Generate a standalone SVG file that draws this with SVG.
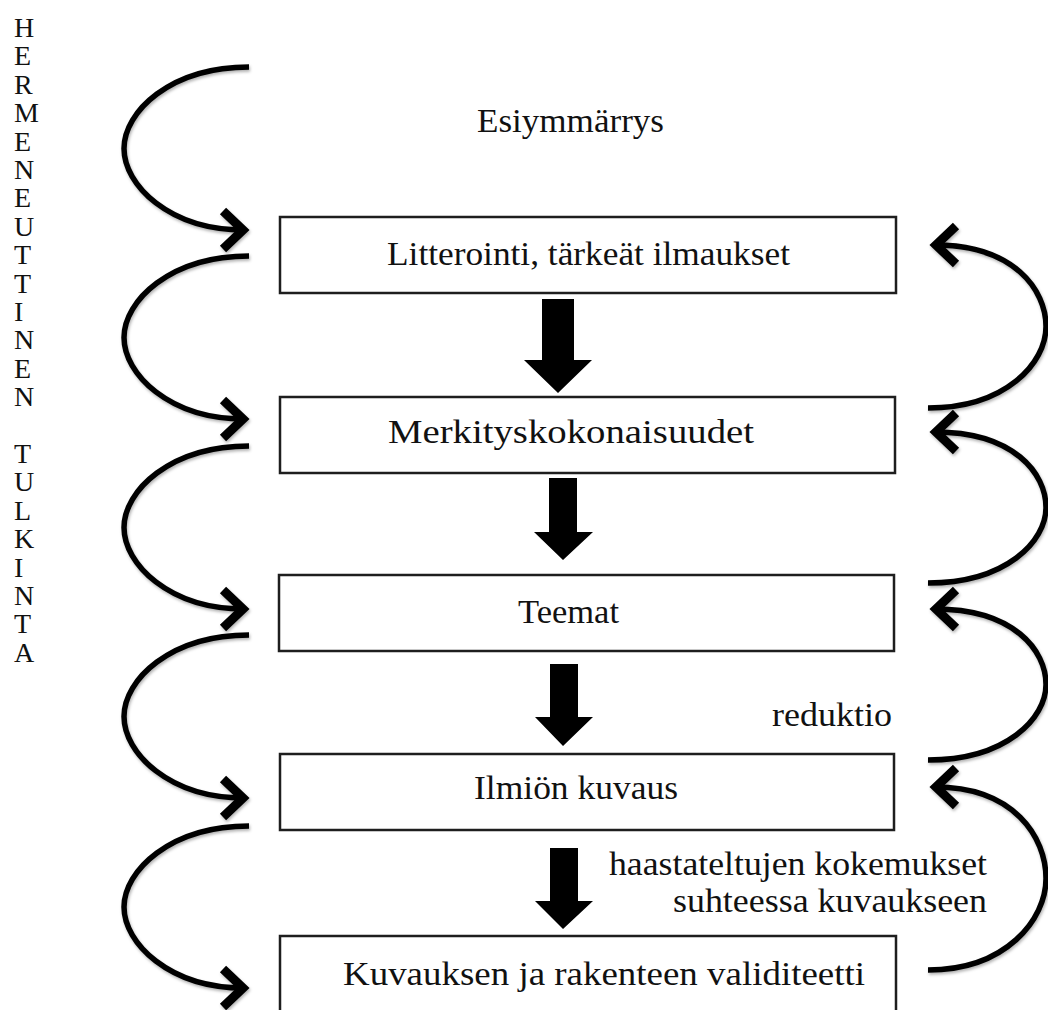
<svg xmlns="http://www.w3.org/2000/svg" width="1048" height="1010" viewBox="0 0 1048 1010">
<style>
  .box { fill: #ffffff; stroke: #1e1e1e; stroke-width: 2.5; }
  .lbl { font-family: "Liberation Serif", "Times New Roman", serif; font-size: 33px; fill: #111; }
  .vert { font-family: "Liberation Serif", "Times New Roman", serif; font-size: 28px; fill: #111; }
  .arc { fill: none; stroke: #000; stroke-width: 5.5; }
  .chev { fill: none; stroke: #000; stroke-width: 9; stroke-linejoin: miter; stroke-miterlimit: 10; }
  .block { fill: #000; }
</style>
<defs>
  <filter id="sh" x="-20%" y="-20%" width="140%" height="140%">
    <feDropShadow dx="1" dy="2" stdDeviation="1.5" flood-color="#000" flood-opacity="0.3"/>
  </filter>
</defs>
<rect x="0" y="0" width="1048" height="1010" fill="#ffffff"/>

<g id="side-label">
  <text class="vert">
    <tspan x="14" y="37">H</tspan>
    <tspan x="14" y="65.4">E</tspan>
    <tspan x="14" y="93.8">R</tspan>
    <tspan x="14" y="122.2">M</tspan>
    <tspan x="14" y="150.6">E</tspan>
    <tspan x="14" y="179">N</tspan>
    <tspan x="14" y="207.4">E</tspan>
    <tspan x="14" y="235.8">U</tspan>
    <tspan x="14" y="264.2">T</tspan>
    <tspan x="14" y="292.6">T</tspan>
    <tspan x="14" y="321">I</tspan>
    <tspan x="14" y="349.4">N</tspan>
    <tspan x="14" y="377.8">E</tspan>
    <tspan x="14" y="406.2">N</tspan>
    <tspan x="14" y="463">T</tspan>
    <tspan x="14" y="491.4">U</tspan>
    <tspan x="14" y="519.8">L</tspan>
    <tspan x="14" y="548.2">K</tspan>
    <tspan x="14" y="576.6">I</tspan>
    <tspan x="14" y="605">N</tspan>
    <tspan x="14" y="633.4">T</tspan>
    <tspan x="14" y="661.8">A</tspan>
  </text>
</g>

<g id="esiymmarrys">
  <text class="lbl" x="477" y="132" textLength="187" lengthAdjust="spacingAndGlyphs">Esiymmärrys</text>
</g>

<g id="node-litterointi">
  <rect class="box" x="280" y="217" width="616" height="76"/>
  <text class="lbl" x="387" y="265" textLength="403" lengthAdjust="spacingAndGlyphs">Litterointi, tärkeät ilmaukset</text>
</g>

<g id="node-merkitys">
  <rect class="box" x="280" y="397" width="615" height="76"/>
  <text class="lbl" x="388" y="443" textLength="366" lengthAdjust="spacingAndGlyphs">Merkityskokonaisuudet</text>
</g>

<g id="node-teemat">
  <rect class="box" x="279" y="575" width="615" height="76"/>
  <text class="lbl" x="518" y="623" textLength="101" lengthAdjust="spacingAndGlyphs">Teemat</text>
</g>

<g id="node-ilmion">
  <rect class="box" x="280" y="754" width="614" height="76"/>
  <text class="lbl" x="474" y="799" textLength="204" lengthAdjust="spacingAndGlyphs">Ilmiön kuvaus</text>
</g>

<g id="node-validiteetti">
  <rect class="box" x="280" y="936" width="616" height="100"/>
  <text class="lbl" x="343" y="985" textLength="522" lengthAdjust="spacingAndGlyphs">Kuvauksen ja rakenteen validiteetti</text>
</g>

<g id="label-reduktio">
  <text class="lbl" x="772" y="726" textLength="120" lengthAdjust="spacingAndGlyphs">reduktio</text>
</g>

<g id="label-haastateltujen">
  <text class="lbl" x="609" y="875" textLength="378" lengthAdjust="spacingAndGlyphs">haastateltujen kokemukset</text>
  <text class="lbl" x="673" y="912" textLength="314" lengthAdjust="spacingAndGlyphs">suhteessa kuvaukseen</text>
</g>

<g id="connectors">
  <g filter="url(#sh)">
    <path class="arc" d="M249,67 c-79,0 -125,45 -125,81.5 c0,36.5 45,81.5 120,81.5"/>
    <polyline class="chev" points="223,211 243,230 223,249"/>
    <path class="arc" d="M249,256 c-79,0 -125,45 -125,81.5 c0,36.5 45,81.5 120,81.5"/>
    <polyline class="chev" points="223,400 243,419 223,438"/>
    <path class="arc" d="M249,446 c-79,0 -125,45 -125,81.5 c0,36.5 45,81.5 120,81.5"/>
    <polyline class="chev" points="223,590 243,609 223,628"/>
    <path class="arc" d="M249,635 c-79,0 -125,45 -125,81.5 c0,36.5 45,81.5 120,81.5"/>
    <polyline class="chev" points="223,779 243,798 223,817"/>
    <path class="arc" d="M249,826 c-79,0 -125,45 -125,81 c0,36 45,81 120,81"/>
    <polyline class="chev" points="223,969 243,988 223,1007"/>

    <path class="arc" d="M935,245 c79,0 111,45 111,81.5 c0,36.5 -40,81.5 -118,81.5"/>
    <polyline class="chev" points="956,226 936,245 956,264"/>
    <path class="arc" d="M935,432 c79,0 111,41.5 111,75.5 c0,34 -40,75.5 -118,75.5"/>
    <polyline class="chev" points="956,413 936,432 956,451"/>
    <path class="arc" d="M935,609 c79,0 111,41.5 111,75.5 c0,34 -40,75.5 -118,75.5"/>
    <polyline class="chev" points="956,590 936,609 956,628"/>
    <path class="arc" d="M935,787 c79,0 111,50 111,91.5 c0,41 -40,91.5 -118,91.5"/>
    <polyline class="chev" points="956,768 936,787 956,806"/>
  </g>

  <polygon class="block" points="542,299 574,299 574,360 592,360 558,393 524,360 542,360"/>
  <polygon class="block" points="549,478 577,478 577,532 593,532 563,560 534,532 549,532"/>
  <polygon class="block" points="550,664 578,664 578,717 593,717 563,746 535,717 550,717"/>
  <polygon class="block" points="550,848 578,848 578,901 593,901 563,929 535,901 550,901"/>
</g>
</svg>
